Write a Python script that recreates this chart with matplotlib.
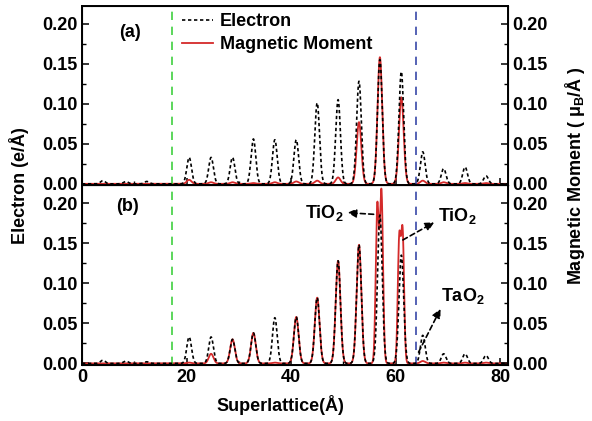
import numpy as np
import matplotlib
matplotlib.use("Agg")
import matplotlib.pyplot as plt
from matplotlib.ticker import FormatStrFormatter

plt.rcParams["font.family"] = ["Liberation Sans", "DejaVu Sans"]
plt.rcParams["font.weight"] = "bold"
plt.rcParams["mathtext.fontset"] = "custom"
plt.rcParams["mathtext.bf"] = "Liberation Sans:bold"
plt.rcParams["mathtext.rm"] = "Liberation Sans:bold"

# peak centres (Å) and peak heights
peak_pos = [4.0, 8.4, 12.4, 20.5, 24.7, 28.8, 32.8, 36.9, 41.0, 45.0,
            49.0, 53.0, 57.0, 61.1, 65.2, 69.2, 73.3, 77.3]
elec_a = [0.004, 0.003, 0.003, 0.033, 0.033, 0.033, 0.056, 0.055, 0.055, 0.101,
          0.105, 0.128, 0.155, 0.140, 0.040, 0.019, 0.021, 0.010]
mag_a = [0.0, 0.0, 0.0, 0.005, 0.002, 0.002, 0.001, 0.002, 0.003, 0.004,
         0.008, 0.077, 0.158, 0.108, 0.004, 0.002, 0.001, 0.001]
elec_b = [0.004, 0.003, 0.002, 0.033, 0.033, 0.030, 0.038, 0.057, 0.058, 0.082,
          0.128, 0.148, 0.185, 0.135, 0.035, 0.012, 0.012, 0.010]
# panel (b) magnetic moment: split peaks near 57 and 61 Å
mag_b_pos = [20.5, 24.7, 28.8, 32.8, 36.9, 41.0, 45.0, 49.0, 53.0,
             56.5, 57.3, 60.7, 61.35, 65.2, 69.2, 73.3, 77.3]
mag_b = [0.001, 0.012, 0.030, 0.038, 0.001, 0.058, 0.082, 0.128, 0.148,
         0.195, 0.212, 0.152, 0.160, 0.003, 0.001, 0.001, 0.001]
mag_b_w = [0.45] * 9 + [0.3, 0.3, 0.28, 0.28] + [0.45] * 4

green_x, blue_x = 17.2, 64.0

x = np.linspace(0, 82, 4000)


def profile(pos, h, w=0.45):
    w = np.broadcast_to(w, len(pos))
    return sum(hi * np.exp(-0.5 * ((x - p) / wi) ** 2) for p, hi, wi in zip(pos, h, w))


FS = 13
fig = plt.figure(figsize=(5.92, 4.21), dpi=100)
L, R, B, H = 0.1385, 0.858, 0.133, 0.4265
ax_b = fig.add_axes([L, B, R - L, H])
ax_a = fig.add_axes([L, B + H, R - L, H], sharex=ax_b)

RED = "#d42a2a"
dot = (0, (2.0, 1.6))
curves = [(ax_a, profile(peak_pos, elec_a), profile(peak_pos, mag_a)),
          (ax_b, profile(peak_pos, elec_b), profile(mag_b_pos, mag_b, mag_b_w))]
for ax, e, m in curves:
    ax.plot(x, e, color="black", ls=dot, lw=1.2, label="Electron", zorder=3)
    ax.plot(x, m, color=RED, lw=1.3, label="Magnetic Moment", zorder=2)
    ax.axvline(green_x, color="#3fcf3f", ls=(0, (5, 4)), lw=1.2)
    ax.axvline(blue_x, color="#3848a8", ls=(0, (5, 4)), lw=1.2)
    ax.set_ylim(-0.002, 0.222)
    for a in (ax, ax.twinx()):
        a.set_ylim(-0.002, 0.222)
        a.set_yticks([0, 0.05, 0.10, 0.15, 0.20])
        a.set_yticks(np.arange(0.025, 0.22, 0.05), minor=True)
        a.yaxis.set_major_formatter(FormatStrFormatter("%.2f"))
        a.tick_params(direction="in", labelsize=FS, length=5, width=1.1, pad=3)
        a.tick_params(which="minor", direction="in", length=3, width=1.0)
    for s in ax.spines.values():
        s.set_linewidth(1.4)

ax_b.set_xlim(0, 81.5)
ax_b.set_xticks([0, 20, 40, 60, 80])
ax_b.set_xticks([10, 30, 50, 70], minor=True)
ax_a.tick_params(axis="x", labelbottom=False)

ax_a.text(9.1, 0.189, "(a)", fontsize=FS, ha="center", va="center")
ax_b.text(8.8, 0.196, "(b)", fontsize=FS, ha="center", va="center")

ax_a.legend(loc="upper left", bbox_to_anchor=(0.218, 1.0), borderaxespad=0,
            frameon=False, handlelength=1.7, handletextpad=0.4, labelspacing=0.35,
            prop={"weight": "bold", "size": FS})

arrow = dict(arrowstyle="-|>", color="black", lw=1.2, ls=(0, (3, 2)),
             mutation_scale=13, shrinkA=0, shrinkB=0)
ax_b.annotate("", xy=(50.8, 0.188), xytext=(55.8, 0.186), arrowprops=arrow)
ax_b.annotate("", xy=(67.4, 0.176), xytext=(61.4, 0.154), arrowprops=arrow)
ax_b.annotate("", xy=(68.6, 0.068), xytext=(64.4, 0.014), arrowprops=arrow)
ax_b.text(46.4, 0.188, r"TiO$_\mathbf{2}$", fontsize=FS, ha="center", va="center")
ax_b.text(71.8, 0.184, r"TiO$_\mathbf{2}$", fontsize=FS, ha="center", va="center")
ax_b.text(72.8, 0.084, r"TaO$_\mathbf{2}$", fontsize=FS, ha="center", va="center")

fig.text(0.032, 0.56, "Electron (e/Å)", rotation=90, ha="center", va="center",
         fontsize=FS)
fig.text(0.972, 0.584, r"Magnetic Moment ( $\mathbf{\mu_B}$/Å )", rotation=90,
         ha="center", va="center", fontsize=FS)
fig.text(0.473, 0.038, "Superlattice(Å)", ha="center", va="center", fontsize=FS)

fig.savefig("out.png", dpi=100)
